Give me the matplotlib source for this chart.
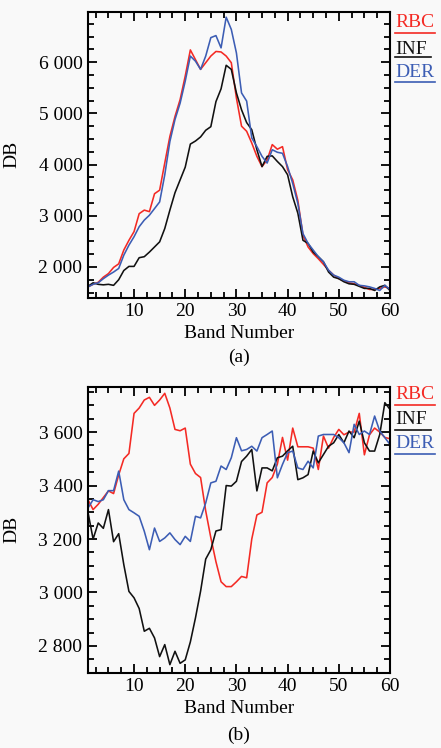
import numpy as np
import matplotlib
matplotlib.use('Agg')
import matplotlib.pyplot as plt
from matplotlib.ticker import MultipleLocator, FuncFormatter

# Data
bands = np.arange(1, 61)

# (a)
rbc_a = [1610, 1660, 1700, 1800, 1870, 1990, 2060, 2330, 2520, 2690,
         3040, 3110, 3080, 3430, 3500, 4030, 4550, 4940, 5270, 5730,
         6240, 6050, 5860, 5990, 6120, 6210, 6200, 6120, 5990, 5300,
         4750, 4650, 4420, 4160, 3960, 4090, 4390, 4300, 4350, 3900,
         3700, 3300, 2620, 2390, 2260, 2160, 2050, 1935, 1840, 1770,
         1730, 1690, 1670, 1640, 1600, 1560, 1560, 1580, 1610, 1580]
inf_a = [1620, 1690, 1660, 1650, 1660, 1640, 1750, 1930, 2010, 2010,
         2180, 2200, 2290, 2390, 2490, 2750, 3110, 3450, 3700, 3950,
         4400, 4460, 4540, 4670, 4740, 5230, 5480, 5940, 5860, 5400,
         5070, 4820, 4680, 4290, 3960, 4160, 4170, 4060, 3960, 3800,
         3370, 3050, 2520, 2460, 2290, 2200, 2100, 1900, 1800, 1770,
         1710, 1670, 1660, 1620, 1580, 1580, 1540, 1610, 1640, 1540]
der_a = [1610, 1660, 1690, 1770, 1840, 1900, 1970, 2230, 2425, 2590,
         2785, 2915, 3010, 3140, 3270, 3800, 4450, 4880, 5200, 5630,
         6120, 6020, 5860, 6120, 6480, 6520, 6280, 6880, 6640, 6180,
         5400, 5240, 4520, 4350, 4160, 4030, 4290, 4240, 4220, 3960,
         3630, 3240, 2650, 2460, 2330, 2200, 2100, 1935, 1840, 1800,
         1740, 1710, 1710, 1640, 1630, 1610, 1580, 1540, 1640, 1560]

# (b)
rbc_b = [3347, 3310, 3330, 3355, 3380, 3370, 3440, 3500, 3520, 3670,
         3690, 3720, 3730, 3700, 3720, 3745, 3690, 3610, 3605, 3615,
         3480, 3445, 3430, 3305, 3205, 3115, 3040, 3022, 3022, 3040,
         3060, 3055, 3200, 3290, 3300, 3410, 3430, 3480, 3580, 3495,
         3615, 3545, 3545, 3545, 3540, 3460, 3585, 3540, 3580, 3610,
         3590, 3600, 3600, 3670, 3515, 3590, 3615, 3600, 3580, 3575]
inf_b = [3300, 3200, 3260, 3240, 3310, 3190, 3220, 3104, 3004, 2980,
         2940, 2855, 2866, 2830, 2760, 2805, 2730, 2780, 2735, 2748,
         2815, 2905, 3005, 3125, 3160, 3230, 3235, 3400, 3398, 3416,
         3490, 3510, 3535, 3380, 3466, 3466, 3455, 3504, 3510, 3530,
         3547, 3422, 3429, 3441, 3529, 3485, 3516, 3547, 3560, 3591,
         3560, 3604, 3579, 3641, 3560, 3529, 3529, 3591, 3710, 3685]
der_b = [3316, 3347, 3340, 3347, 3381, 3381, 3454, 3347, 3310, 3298,
         3285, 3229, 3160, 3241, 3191, 3204, 3223, 3198, 3179, 3210,
         3191, 3285, 3279, 3335, 3410, 3416, 3473, 3460, 3504, 3579,
         3530, 3535, 3547, 3529, 3579, 3591, 3604, 3429, 3479, 3523,
         3529, 3466, 3460, 3491, 3466, 3585, 3591, 3591, 3591, 3579,
         3560, 3523, 3629, 3591, 3604, 3591, 3660, 3604, 3579, 3554]

names = ['RBC', 'INF', 'DER']
colors = ['#f42a24', '#111111', '#3c5db4']

plt.rcParams['font.family'] = ['Liberation Serif', 'DejaVu Serif']
plt.rcParams['font.size'] = 14

bg = '#f9f9f9'
fig = plt.figure(figsize=(4.41, 7.48), dpi=100, facecolor=bg)
ax1 = fig.add_axes([0.1995, 0.6021, 0.6848, 0.3818], facecolor=bg)
ax2 = fig.add_axes([0.1995, 0.1007, 0.6848, 0.3824], facecolor=bg)


def thousands(v, pos):
    return f'{v:,.0f}'.replace(',', ' ')


def style(ax, ylim, ymaj, ymin, tag, legend_y):
    ax.set_xlim(1, 60)
    ax.set_ylim(*ylim)
    ax.xaxis.set_major_locator(MultipleLocator(10))
    ax.xaxis.set_minor_locator(MultipleLocator(2.5))
    ax.yaxis.set_major_locator(MultipleLocator(ymaj))
    ax.yaxis.set_minor_locator(MultipleLocator(ymin))
    ax.yaxis.set_major_formatter(FuncFormatter(thousands))
    ax.tick_params(which='both', direction='in', top=True, right=True,
                   width=1.3, labelsize=14, pad=4)
    ax.tick_params(which='major', length=6.5)
    ax.tick_params(which='minor', length=4)
    for s in ax.spines.values():
        s.set_linewidth(1.5)
    ax.set_xlabel('Band Number', fontsize=14)
    ax.set_ylabel('DB', fontsize=14)
    ax.yaxis.set_label_coords(-0.225, 0.5)
    ax.xaxis.label.set_verticalalignment('center')
    ax.xaxis.set_label_coords(0.5, -0.125)
    ax.text(0.5, tag, '(a)' if ylim[0] < 2000 else '(b)', transform=ax.transAxes,
            ha='center', va='center', fontsize=14)
    # coloured, underlined legend to the right of the frame
    for name, c, (ty, uy) in zip(names, colors, legend_y):
        ax.text(1.017, ty, name, color=c, transform=ax.transAxes,
                ha='left', va='center', fontsize=14)
        w = 0.118 if name == 'INF' else 0.133
        ax.plot([1.017, 1.017 + w], [uy, uy], color=c, lw=1.2,
                transform=ax.transAxes, clip_on=False)


for vals, c in zip([rbc_a, inf_a, der_a], colors):
    ax1.plot(bands, vals, color=c, lw=1.15)
for vals, c in zip([rbc_b, inf_b, der_b], colors):
    ax2.plot(bands, vals, color=c, lw=1.15)

style(ax1, (1400, 6980), 1000, 250, -0.208,
      [(0.965, 0.928), (0.870, 0.841), (0.788, 0.756)])
style(ax2, (2700, 3770), 200, 50, -0.218,
      [(0.971, 0.936), (0.884, 0.849), (0.800, 0.765)])

fig.savefig('out.png', dpi=100, facecolor=bg)
